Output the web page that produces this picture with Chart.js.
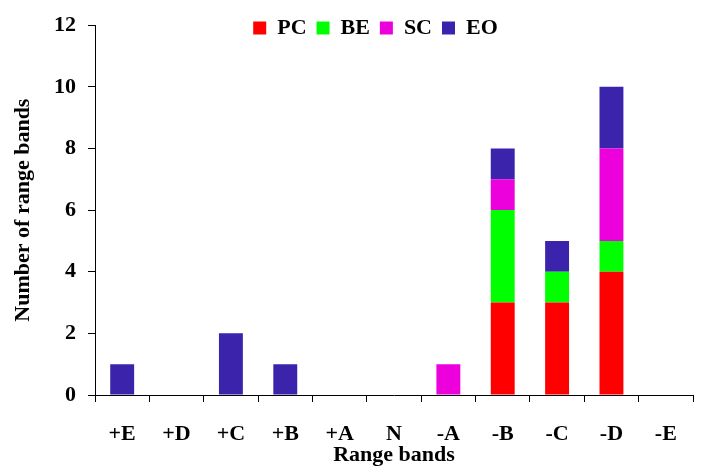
<!DOCTYPE html>
<html>
<head>
<meta charset="utf-8">
<script src="https://cdn.jsdelivr.net/npm/chart.js@4/dist/chart.umd.min.js"></script>
<style>
  html, body { margin: 0; padding: 0; background: #ffffff; }
  #wrap { width: 702px; height: 466px; position: relative; }
</style>
</head>
<body>
<div id="wrap"><canvas id="c" width="702" height="466"></canvas></div>
<script>
const categories = ['+E', '+D', '+C', '+B', '+A', 'N', '-A', '-B', '-C', '-D', '-E'];
const seriesNames = ['PC', 'BE', 'SC', 'EO'];
const PC = [0, 0, 0, 0, 0, 0, 0, 3, 3, 4, 0];
const BE = [0, 0, 0, 0, 0, 0, 0, 3, 1, 1, 0];
const SC = [0, 0, 0, 0, 0, 0, 1, 1, 0, 3, 0];
const EO = [1, 0, 2, 1, 0, 0, 0, 1, 1, 2, 0];
const yTicks = [0, 2, 4, 6, 8, 10, 12];

const colors = ['#FF0000', '#00FF00', '#EC00DC', '#3C23AC'];
const values = [PC, BE, SC, EO];

const FONT = '"Liberation Serif", "Times New Roman", serif';

const legendPlacer = {
  id: 'legendPlacer',
  afterInit(chart) {
    const lg = chart.legend;
    const origFit = lg.fit.bind(lg);
    lg.fit = function () { origFit(); this.height = 0; };
  },
  afterLayout(chart) {
    const lg = chart.legend;
    const dx = 29;
    lg.left += dx; lg.right += dx;
    lg.top = 7; lg.bottom = 47; lg.height = 40;
  }
};

new Chart(document.getElementById('c'), {
  type: 'bar',
  data: {
    labels: categories,
    datasets: seriesNames.map((n, i) => ({
      label: n,
      data: values[i],
      backgroundColor: colors[i],
      borderWidth: 0,
      categoryPercentage: 1.0,
      barPercentage: 0.44
    }))
  },
  options: {
    responsive: false,
    animation: false,
    devicePixelRatio: 1,
    layout: { padding: { top: 16, right: 9, left: 0, bottom: 0 } },
    plugins: {
      tooltip: { enabled: false },
      legend: {
        position: 'top',
        align: 'center',
        labels: {
          boxWidth: 13,
          boxHeight: 13,
          padding: 10,
          color: '#000',
          font: { family: FONT, size: 22, weight: 'bold' }
        }
      }
    },
    scales: {
      x: {
        stacked: true,
        offset: true,
        border: { display: true, color: '#000', width: 1 },
        grid: { display: true, offset: true, drawOnChartArea: false, drawTicks: true, tickLength: 7, color: '#000' },
        ticks: { color: '#000', padding: 19, maxRotation: 0, autoSkip: false, font: { family: FONT, size: 22, weight: 'bold' } },
        title: { display: true, text: 'Range bands', color: '#000', padding: { top: 0, bottom: 0 }, font: { family: FONT, size: 22, weight: 'bold', lineHeight: 1.0 } },
        afterFit(s) { s.height = 71; }
      },
      y: {
        stacked: true,
        min: 0,
        max: 12,
        border: { display: true, color: '#000', width: 1 },
        grid: { display: true, drawOnChartArea: false, drawTicks: true, tickLength: 7, color: '#000' },
        afterBuildTicks(s) { s.ticks = yTicks.map(v => ({ value: v })); },
        ticks: { color: '#000', padding: 12, font: { family: FONT, size: 22, weight: 'bold' } },
        title: { display: true, text: 'Number of range bands', color: '#000', padding: { top: 11, bottom: 0 }, font: { family: FONT, size: 22, weight: 'bold', lineHeight: 1.1 } },
        afterFit(s) { s.width = 95; }
      }
    }
  },
  plugins: [legendPlacer]
});
</script>
</body>
</html>
